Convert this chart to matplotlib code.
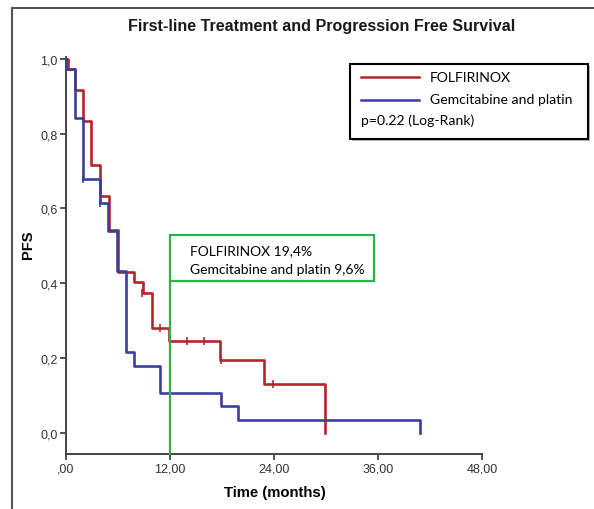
import matplotlib
matplotlib.use('Agg')
import matplotlib.pyplot as plt
from matplotlib.lines import Line2D
from matplotlib.patches import Rectangle

# Kaplan-Meier step data
folfirinox_t = [0, 0.2, 1.0, 1.95, 2.9, 3.95, 4.95, 6.0, 7.9, 8.85, 9.9, 11.9, 17.8, 22.9, 29.85]
folfirinox_s = [1.0, 0.974, 0.918, 0.835, 0.717, 0.632, 0.543, 0.43, 0.402, 0.373, 0.279, 0.244, 0.195, 0.13, 0.0]
folfirinox_cens_t = [8.8, 10.9, 13.95, 15.9, 17.9, 23.9]
folfirinox_cens_s = [0.373, 0.279, 0.244, 0.244, 0.195, 0.13]

gem_t = [0, 0.05, 1.0, 1.94, 3.95, 4.83, 5.87, 6.95, 7.9, 10.9, 17.85, 19.9, 40.8]
gem_s = [1.0, 0.974, 0.841, 0.679, 0.614, 0.539, 0.432, 0.215, 0.179, 0.106, 0.07, 0.034, 0.0]
gem_cens_t = [1.94, 3.95]
gem_cens_s = [0.679, 0.614]

x_ticks = [0, 12, 24, 36, 48]
x_labels = [',00', '12,00', '24,00', '36,00', '48,00']
y_ticks = [0.0, 0.2, 0.4, 0.6, 0.8, 1.0]
y_labels = ['0,0', '0,2', '0,4', '0,6', '0,8', '1,0']

landmark_t = 12
landmark_text = ['FOLFIRINOX 19,4%', 'Gemcitabine and platin 9,6%']

RED = '#b3262d'
BLUE = '#3c3f99'
GREEN = '#2cb44a'
AXC = '#444444'

W, H = 594, 510
fig = plt.figure(figsize=(W / 100, H / 100), dpi=100)


def fx(px):
    return px / W


def fy(py):
    return 1 - py / H


ax = fig.add_axes([fx(66), fy(455), fx(482) - fx(66), fy(58) - fy(455)])
ax.set_xlim(0, 48)
ax.set_ylim(-0.0575, 1.0055)

ax.step(folfirinox_t, folfirinox_s, where='post', color=RED, lw=1.9, zorder=3)
ax.step(gem_t, gem_s, where='post', color=BLUE, lw=1.9, zorder=4)
ax.plot(folfirinox_cens_t, folfirinox_cens_s, ls='none', marker='|', ms=6, mew=1.2, color=RED, zorder=5)
ax.plot(gem_cens_t, gem_cens_s, ls='none', marker='|', ms=6, mew=1.2, color=BLUE, zorder=5)

# landmark line and annotation box
box_bottom, box_top, box_right = 0.406, 0.529, 35.5
ax.plot([landmark_t, landmark_t], [-0.0575, box_bottom], color=GREEN, lw=1.6, zorder=6, clip_on=False)
ax.add_patch(Rectangle((landmark_t, box_bottom), box_right - landmark_t, box_top - box_bottom,
                       fill=True, facecolor='white', edgecolor=GREEN, lw=1.6, zorder=6))
ax.text(14.3, 0.487, landmark_text[0], fontsize=10, family='Lato', va='center', ha='left', zorder=7)
ax.text(14.3, 0.438, landmark_text[1], fontsize=10, family='Lato', va='center', ha='left', zorder=7)

for side in ['top', 'right']:
    ax.spines[side].set_visible(False)
for side in ['left', 'bottom']:
    ax.spines[side].set_color(AXC)
    ax.spines[side].set_linewidth(1.4)

ax.set_xticks(x_ticks)
ax.set_xticklabels(x_labels)
ax.set_yticks(y_ticks)
ax.set_yticklabels(y_labels)
ax.tick_params(axis='both', colors=AXC, labelcolor='#333333', length=4, width=1.3,
               labelsize=9, pad=2)
for lab in ax.get_xticklabels() + ax.get_yticklabels():
    lab.set_family('Liberation Sans')

ax.set_xlabel('Time (months)', fontsize=10.7, fontweight='bold', family='Liberation Sans')
ax.set_ylabel('PFS', fontsize=10.5, fontweight='bold', family='Liberation Sans')
ax.xaxis.set_label_coords((fx(275) - fx(66)) / (fx(482) - fx(66)), (fy(493) - fy(455)) / (fy(58) - fy(455)))
ax.yaxis.set_label_coords((fx(28) - fx(66)) / (fx(482) - fx(66)), (fy(245) - fy(455)) / (fy(58) - fy(455)))
ax.xaxis.label.set_va('center')
ax.yaxis.label.set_va('center')

fig.text(fx(322), fy(26), 'First-line Treatment and Progression Free Survival', fontsize=11.6,
         fontweight='bold', family='Liberation Sans', ha='center', va='center', color='#1a1a1a')

# outer frame (left and top edges only)
fig.add_artist(Line2D([fx(12), fx(12)], [fy(9), 0], color='#555555', lw=1.5))
fig.add_artist(Line2D([fx(12), 1], [fy(9), fy(9)], color='#555555', lw=1.5))

# legend box
fig.add_artist(Rectangle((fx(352), fy(142)), fx(590) - fx(352), fy(67) - fy(142),
                         facecolor='#bbbbbb', edgecolor='none', zorder=1))
fig.add_artist(Rectangle((fx(350), fy(140)), fx(588) - fx(350), fy(65) - fy(140),
                         facecolor='white', edgecolor='black', lw=1.5, zorder=2))
fig.add_artist(Line2D([fx(361), fx(419)], [fy(78), fy(78)], color=RED, lw=1.8, zorder=3))
fig.add_artist(Line2D([fx(361), fx(419)], [fy(100.5), fy(100.5)], color=BLUE, lw=1.8, zorder=3))
fig.text(fx(430), fy(78), 'FOLFIRINOX', fontsize=10.1, family='Lato', va='center', ha='left', zorder=4)
fig.text(fx(430), fy(100.5), 'Gemcitabine and platin', fontsize=10.1, family='Lato', va='center', ha='left', zorder=4)
fig.text(fx(361), fy(121), 'p=0.22 (Log-Rank)', fontsize=10.1, family='Lato', va='center', ha='left', zorder=4)

fig.savefig('out.png', dpi=100)
